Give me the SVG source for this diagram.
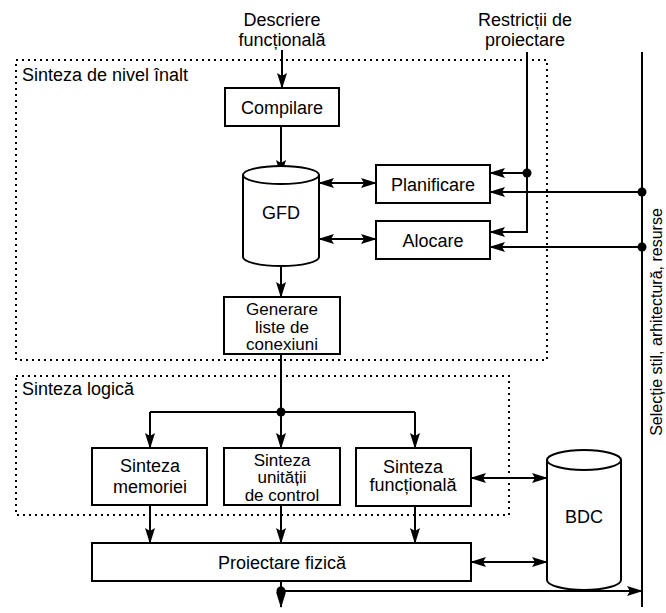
<svg xmlns="http://www.w3.org/2000/svg" width="666" height="613" viewBox="0 0 666 613">
  <style>
    text { font-family: "Liberation Sans", Arial, sans-serif; font-size: 18px; fill: #000; }
    .c { text-anchor: middle; }
    .tight { font-size: 17px; }
    .side { font-size: 16px; }
    .box { fill: #fff; stroke: #000; stroke-width: 2; }
    .cyl { fill: #fff; stroke: #000; stroke-width: 2; }
    .region { fill: none; stroke: #000; stroke-width: 2; stroke-dasharray: 2 4; }
    .wire { fill: none; stroke: #000; stroke-width: 2; }
    .arr { marker-end: url(#head); }
    .arr2 { marker-start: url(#head); marker-end: url(#head); }
  </style>
  <defs>
    <marker id="head" viewBox="0 0 16 10" refX="15" refY="5" markerWidth="16" markerHeight="10" markerUnits="userSpaceOnUse" orient="auto-start-reverse">
      <path d="M0,0 L16,5 L0,10 L3,5 z" fill="#000"/>
    </marker>
  </defs>

  <rect width="666" height="613" fill="#fff"/>

  <!-- dotted synthesis regions -->
  <g id="region-high">
    <rect class="region" x="16" y="60" width="531" height="300"/>
    <text x="22" y="81">Sinteza de nivel înalt</text>
  </g>
  <g id="region-logic">
    <rect class="region" x="16" y="376" width="493" height="139"/>
    <text x="22" y="395">Sinteza logică</text>
  </g>

  <!-- connectors -->
  <g id="connectors">
    <line class="wire arr" x1="282" y1="50" x2="282" y2="88"/>
    <line class="wire arr" x1="281" y1="126" x2="281" y2="175"/>
    <line class="wire arr2" x1="319" y1="183" x2="376" y2="183"/>
    <line class="wire arr2" x1="319" y1="239" x2="376" y2="239"/>
    <!-- design constraints feed -->
    <polyline class="wire arr" points="527,52 527,232 490,232"/>
    <line class="wire arr" x1="527" y1="173" x2="490" y2="173"/>
    <!-- style / architecture / resource bus -->
    <line class="wire" x1="642" y1="52" x2="642" y2="607"/>
    <line class="wire arr" x1="642" y1="192" x2="490" y2="192"/>
    <line class="wire arr" x1="642" y1="247" x2="490" y2="247"/>
    <line class="wire arr" x1="281" y1="266" x2="281" y2="297"/>
    <!-- netlist fan-out -->
    <line class="wire" x1="281" y1="354" x2="281" y2="412"/>
    <line class="wire" x1="150" y1="412" x2="415" y2="412"/>
    <line class="wire arr" x1="150" y1="412" x2="150" y2="448"/>
    <line class="wire arr" x1="281" y1="412" x2="281" y2="448"/>
    <line class="wire arr" x1="415" y1="412" x2="415" y2="448"/>
    <line class="wire arr" x1="150" y1="505" x2="150" y2="543"/>
    <line class="wire arr" x1="281" y1="505" x2="281" y2="543"/>
    <line class="wire arr" x1="415" y1="506" x2="415" y2="543"/>
    <line class="wire arr2" x1="471" y1="478" x2="547" y2="478"/>
    <line class="wire arr2" x1="471" y1="562" x2="547" y2="562"/>
    <line class="wire arr" x1="281" y1="581" x2="281" y2="607"/>
    <line class="wire arr" x1="281" y1="591" x2="642" y2="591"/>
    <!-- junction dots -->
    <circle cx="527" cy="173" r="4.5"/>
    <circle cx="642" cy="192" r="4.5"/>
    <circle cx="642" cy="247" r="4.5"/>
    <circle cx="281" cy="412" r="4.5"/>
    <circle cx="281" cy="591" r="4.5"/>
  </g>

  <!-- external inputs -->
  <g id="in-descriere">
    <text class="c" x="282" y="26">Descriere</text>
    <text class="c" x="282" y="46">funcțională</text>
  </g>
  <g id="in-restrictii">
    <text class="c" x="525" y="26">Restricții de</text>
    <text class="c" x="525" y="46">proiectare</text>
  </g>
  <g id="in-selectie">
    <text class="c side" transform="translate(662,322) rotate(-90)" x="0" y="0">Selecție stil, arhitectură, resurse</text>
  </g>

  <!-- nodes -->
  <g id="compilare">
    <rect class="box" x="225" y="88" width="114" height="38"/>
    <text class="c" x="282" y="113.5">Compilare</text>
  </g>
  <g id="gfd">
    <path class="cyl" d="M243,175 A38,9 0 0 1 319,175 L319,257 A38,9 0 0 1 243,257 Z"/>
    <path class="wire" d="M243,175 A38,9 0 0 0 319,175"/>
    <text class="c" x="281" y="219">GFD</text>
  </g>
  <g id="planificare">
    <rect class="box" x="376" y="165" width="114" height="38"/>
    <text class="c" x="433" y="190.5">Planificare</text>
  </g>
  <g id="alocare">
    <rect class="box" x="376" y="221" width="114" height="38"/>
    <text class="c" x="433" y="246.5">Alocare</text>
  </g>
  <g id="generare">
    <rect class="box" x="224" y="297" width="116" height="57"/>
    <text class="c tight" x="282" y="315">Generare</text>
    <text class="c tight" x="282" y="332.5">liste de</text>
    <text class="c tight" x="282" y="350">conexiuni</text>
  </g>
  <g id="sinteza-memoriei">
    <rect class="box" x="92" y="448" width="115" height="57"/>
    <text class="c" x="150" y="472">Sinteza</text>
    <text class="c" x="150" y="493">memoriei</text>
  </g>
  <g id="sinteza-control">
    <rect class="box" x="224" y="448" width="116" height="57"/>
    <text class="c tight" x="282" y="465.5">Sinteza</text>
    <text class="c tight" x="282" y="483">unității</text>
    <text class="c tight" x="282" y="500.5">de control</text>
  </g>
  <g id="sinteza-functionala">
    <rect class="box" x="356" y="448" width="115" height="58"/>
    <text class="c" x="413" y="472.5">Sinteza</text>
    <text class="c" x="413" y="491">funcțională</text>
  </g>
  <g id="bdc">
    <path class="cyl" d="M547,460 A37,10 0 0 1 621,460 L621,580 A37,10 0 0 1 547,580 Z"/>
    <path class="wire" d="M547,460 A37,10 0 0 0 621,460"/>
    <text class="c" x="584" y="523">BDC</text>
  </g>
  <g id="proiectare-fizica">
    <rect class="box" x="92" y="543" width="379" height="38"/>
    <text class="c" x="282" y="568.5">Proiectare fizică</text>
  </g>
</svg>
